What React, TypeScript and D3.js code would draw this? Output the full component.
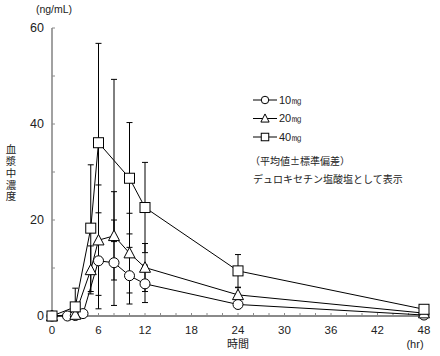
import React from "react";
import * as d3 from "d3";

// ---- data ----
const times10 = [0, 2, 3, 4, 6, 8, 10, 12, 24, 48];
const mean10 = [0, 0, 0.1, 0.5, 11.5, 11.1, 8.4, 6.7, 2.4, 0.2];
const sd10 = [0, 0, 0, 0, 10.0, 8.9, 5.9, 3.9, 0.8, 0];

const times20 = [0, 3, 5, 6, 8, 10, 12, 24, 48];
const mean20 = [0, 0.3, 9.6, 15.8, 16.7, 13.1, 10.1, 4.4, 0.6];
const sd20 = [0, 0, 5.0, 11.5, 9.2, 8.3, 5.0, 1.5, 0];

const times40 = [0, 3, 5, 6, 8, 10, 12, 24, 48];
const mean40 = [0, 1.9, 18.3, 36.1, 32.4, 28.7, 22.6, 9.4, 1.4];
const sd40 = [0, 3.9, 13.2, 20.7, 16.9, 11.6, 9.4, 3.4, 0];
const noMarker40 = [8];

const seriesNames = ["10㎎", "20㎎", "40㎎"];
const seriesShapes = ["circle", "triangle", "square"];

const yTickLabels = [0, 20, 40, 60];
const yMinorTicks = [0, 10, 20, 30, 40, 50, 60];
const xTickLabels = [0, 6, 12, 18, 24, 30, 36, 42, 48];
const xMinorTicks = d3.range(0, 49, 2);

const yTitle = "血漿中濃度";
const noteLines = ["（平均値±標準偏差）", "デュロキセチン塩酸塩として表示"];

const series = [
  { name: seriesNames[0], shape: seriesShapes[0], t: times10, m: mean10, s: sd10, hide: [] as number[] },
  { name: seriesNames[1], shape: seriesShapes[1], t: times20, m: mean20, s: sd20, hide: [] as number[] },
  { name: seriesNames[2], shape: seriesShapes[2], t: times40, m: mean40, s: sd40, hide: noMarker40 },
];

const NUM_FONT = "'Liberation Sans', Arial, sans-serif";
const JP_FONT = "'Noto Sans CJK JP', sans-serif";

function Marker({ shape, x, y, size }: { shape: string; x: number; y: number; size: number }) {
  const common = { fill: "#fff", stroke: "#000", strokeWidth: 1 };
  if (shape === "circle") return <circle cx={x} cy={y} r={size / 2} {...common} />;
  if (shape === "square")
    return <rect x={x - size / 2} y={y - size / 2} width={size} height={size} {...common} />;
  const h = size * 0.95;
  const w = size * 1.1;
  return (
    <path
      d={`M${x},${y - h / 2 - 1}L${x + w / 2},${y + h / 2}L${x - w / 2},${y + h / 2}Z`}
      {...common}
    />
  );
}

export default function App() {
  const x = d3.scaleLinear().domain([0, 48]).range([52, 424]);
  const y = d3.scaleLinear().domain([0, 60]).range([316, 28]);
  const line = d3
    .line<[number, number]>()
    .x((d) => x(d[0]))
    .y((d) => y(d[1]));

  const axisColor = "#8a8a8a";

  return (
    <svg
      width={440}
      height={356}
      style={{ position: "absolute", left: 0, top: 0, background: "#fff" }}
    >
      {/* axes */}
      <line x1={x(0)} x2={x(0)} y1={y(60)} y2={y(0)} stroke={axisColor} strokeWidth={1.6} />
      <line x1={x(0)} x2={x(48)} y1={y(0)} y2={y(0)} stroke={axisColor} strokeWidth={1.8} />
      {yMinorTicks.map((v) => (
        <line key={"ym" + v} x1={x(0)} x2={x(0) + 3} y1={y(v)} y2={y(v)} stroke={axisColor} strokeWidth={1} />
      ))}
      {xMinorTicks.map((v) => (
        <line key={"xm" + v} x1={x(v)} x2={x(v)} y1={y(0)} y2={y(0) - 3} stroke={axisColor} strokeWidth={1} />
      ))}
      {yTickLabels.map((v) => (
        <text
          key={"yl" + v}
          x={x(0) - 8}
          y={y(v)}
          dy="0.35em"
          textAnchor="end"
          fontFamily={NUM_FONT}
          fontSize={12.5}
          fill="#222"
        >
          {v}
        </text>
      ))}
      {xTickLabels.map((v) => (
        <text
          key={"xl" + v}
          x={x(v)}
          y={334}
          textAnchor="middle"
          fontFamily={NUM_FONT}
          fontSize={11.5}
          fill="#222"
        >
          {v}
        </text>
      ))}
      <text x={54} y={13} textAnchor="middle" fontFamily={NUM_FONT} fontSize={10.5} fill="#222">
        (ng/mL)
      </text>
      <text x={x(24)} y={348} textAnchor="middle" fontFamily={JP_FONT} fontSize={11} fill="#222">
        時間
      </text>
      <text x={415} y={348} textAnchor="middle" fontFamily={NUM_FONT} fontSize={11} fill="#222">
        (hr)
      </text>
      <text
        x={11}
        y={144}
        fontFamily={JP_FONT}
        fontSize={10.5}
        letterSpacing={1.3}
        fill="#222"
        style={{ writingMode: "vertical-rl" } as React.CSSProperties}
      >
        {yTitle}
      </text>

      {/* lines */}
      {series.map((s) => (
        <path
          key={"ln" + s.name}
          d={line(s.t.map((t, i) => [t, s.m[i]] as [number, number])) || ""}
          fill="none"
          stroke="#000"
          strokeWidth={1}
        />
      ))}

      {/* error bars */}
      {series.map((s) =>
        s.t.map((t, i) => {
          const sd = s.s[i];
          if (!sd) return null;
          const hi = s.m[i] + sd;
          const lo = Math.max(0, s.m[i] - sd);
          const cx = x(t);
          return (
            <g key={"eb" + s.name + t} stroke="#000" strokeWidth={1}>
              <line x1={cx} x2={cx} y1={y(hi)} y2={y(lo)} />
              <line x1={cx - 3} x2={cx + 3} y1={y(hi)} y2={y(hi)} />
              <line x1={cx - 3} x2={cx + 3} y1={y(lo)} y2={y(lo)} />
            </g>
          );
        })
      )}

      {/* markers */}
      {series.map((s) =>
        s.t.map((t, i) =>
          s.hide.includes(t) ? null : (
            <Marker key={"mk" + s.name + t} shape={s.shape} x={x(t)} y={y(s.m[i])} size={10} />
          )
        )
      )}

      {/* legend */}
      {series.map((s, i) => {
        const ly = 100 + i * 18.5;
        return (
          <g key={"lg" + s.name}>
            <line x1={253} x2={277} y1={ly} y2={ly} stroke="#000" strokeWidth={1} />
            <Marker shape={s.shape} x={265} y={ly} size={7.5} />
            <text
              x={279}
              y={ly}
              dy="0.35em"
              fontFamily={NUM_FONT}
              fontSize={11}
              fill="#222"
            >
              {s.name}
            </text>
          </g>
        );
      })}
      {noteLines.map((t, i) => (
        <text
          key={"nt" + i}
          x={i === 0 ? 250 : 253}
          y={161 + i * 18}
          dy="0.35em"
          fontFamily={JP_FONT}
          fontSize={10}
          fill="#222"
        >
          {t}
        </text>
      ))}
    </svg>
  );
}
